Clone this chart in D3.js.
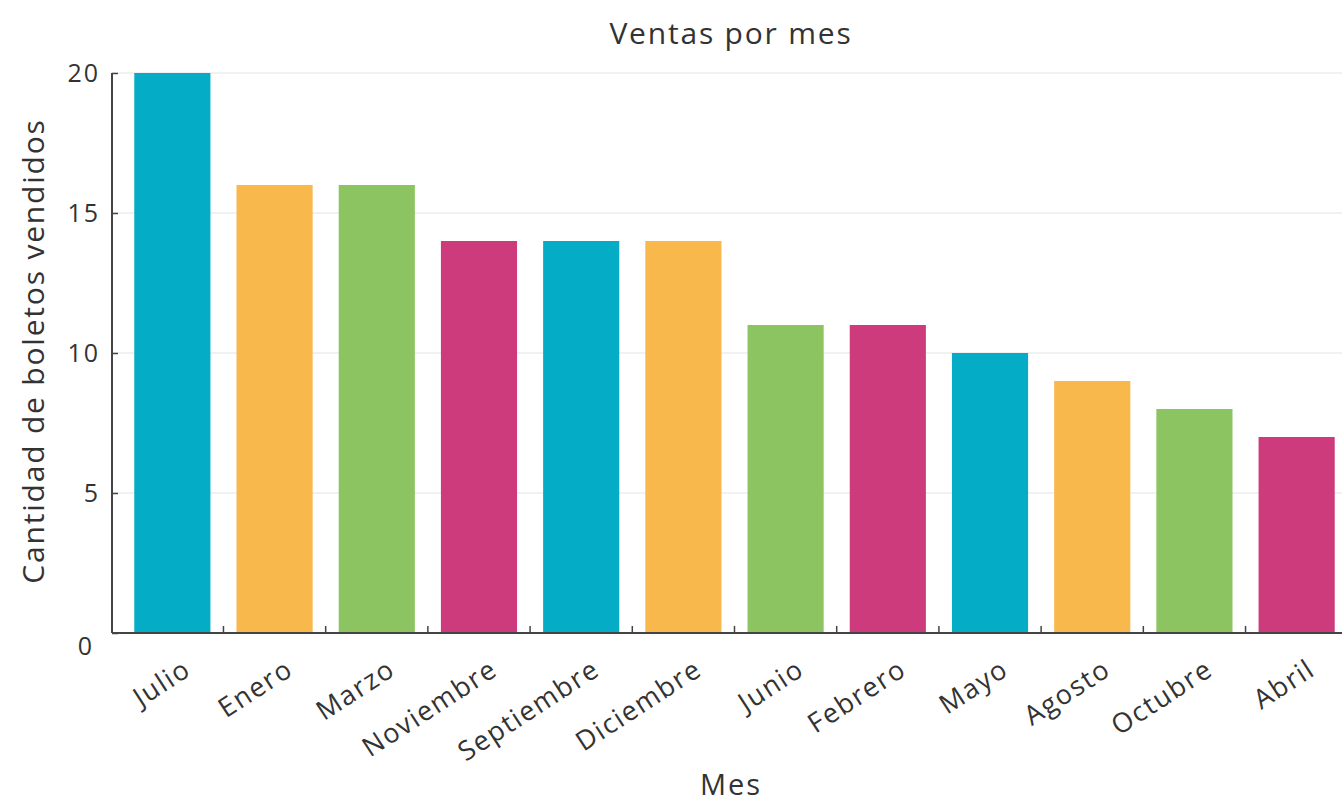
<!DOCTYPE html>
<html>
<head>
<meta charset="utf-8">
<script src="https://cdn.jsdelivr.net/npm/d3@7"></script>
<style>
  body { margin: 0; background: #fff; }
  text { font-family: "Open Sans", "Noto Sans", sans-serif; fill: #333; font-weight: 400; }
</style>
</head>
<body>
<svg id="chart" width="1342" height="804"></svg>
<script>
// Data
const months = ["Julio", "Enero", "Marzo", "Noviembre", "Septiembre", "Diciembre",
  "Junio", "Febrero", "Mayo", "Agosto", "Octubre", "Abril"];
const sales = [20, 16, 16, 14, 14, 14, 11, 11, 10, 9, 8, 7];
const yTicks = [0, 5, 10, 15, 20];
const palette = ["#04adc5", "#f8b84c", "#8cc462", "#cd3b7d"];

const svg = d3.select("#chart");

// plot area
const plotLeft = 112, plotRight = 1348, plotTop = 73, plotBottom = 633;

const x = d3.scaleBand()
  .domain(months)
  .range([121, plotRight])
  .paddingInner(0.255)
  .paddingOuter(0.13);

const y = d3.scaleLinear().domain([0, 20]).range([plotBottom, plotTop]);

// grid lines
svg.append("g")
  .selectAll("line")
  .data(yTicks.filter(d => d > 0))
  .enter()
  .append("line")
  .attr("x1", plotLeft)
  .attr("x2", 1342)
  .attr("y1", d => y(d))
  .attr("y2", d => y(d))
  .attr("stroke", "#ececec")
  .attr("stroke-width", 1.5);

// bars
svg.append("g")
  .selectAll("rect")
  .data(months)
  .enter()
  .append("rect")
  .attr("x", d => x(d))
  .attr("y", (d, i) => y(sales[i]))
  .attr("width", x.bandwidth())
  .attr("height", (d, i) => plotBottom - y(sales[i]))
  .attr("fill", (d, i) => palette[i % palette.length]);

// x axis: ticks at band boundaries
const gap = x.step() - x.bandwidth();
const boundaries = months.slice(1).map(m => x(m) - gap / 2);
svg.append("line")
  .attr("x1", plotLeft).attr("x2", 1342)
  .attr("y1", plotBottom).attr("y2", plotBottom)
  .attr("stroke", "#444").attr("stroke-width", 2);
svg.append("g")
  .selectAll("line")
  .data(boundaries)
  .enter()
  .append("line")
  .attr("x1", d => d).attr("x2", d => d)
  .attr("y1", plotBottom).attr("y2", plotBottom - 7)
  .attr("stroke", "#444").attr("stroke-width", 1.5);

// x labels rotated
svg.append("g")
  .selectAll("text")
  .data(months)
  .enter()
  .append("text")
  .attr("transform", d => `translate(${x(d) + x.bandwidth() / 2 + 10}, ${plotBottom + 25}) rotate(-33)`)
  .attr("text-anchor", "end")
  .attr("dy", "0.7em")
  .style("font-size", "27px")
  .style("letter-spacing", "1.6px")
  .text(d => d);

// y axis
const yAxis = svg.append("g")
  .attr("transform", `translate(${plotLeft}, 0)`)
  .call(d3.axisRight(y).tickValues(yTicks).tickSize(6).tickFormat(d3.format("d")));
yAxis.select(".domain").attr("stroke", "#444").attr("stroke-width", 2).attr("d", `M0,${plotTop}V${plotBottom}`);
yAxis.selectAll(".tick line").attr("stroke", "#444").attr("stroke-width", 1.5);
yAxis.selectAll(".tick text")
  .attr("x", -12)
  .attr("text-anchor", "end")
  .style("font-size", "25px")
  .style("letter-spacing", "2px")
  .style("font-family", "'Open Sans', 'Noto Sans', sans-serif")
  .attr("fill", "#333");
// the zero label sits a bit lower and to the left
yAxis.selectAll(".tick text").filter(d => d === 0)
  .attr("x", -18)
  .attr("dy", "0.85em");

// title
svg.append("text")
  .attr("x", 731)
  .attr("y", 44)
  .attr("text-anchor", "middle")
  .style("font-size", "30px")
  .style("letter-spacing", "1.8px")
  .text("Ventas por mes");

// x label
svg.append("text")
  .attr("x", 731)
  .attr("y", 795)
  .attr("text-anchor", "middle")
  .style("font-size", "29px")
  .style("letter-spacing", "2px")
  .text("Mes");

// y label
svg.append("text")
  .attr("transform", `translate(44, 351) rotate(-90)`)
  .attr("text-anchor", "middle")
  .style("font-size", "30px")
  .style("letter-spacing", "1.8px")
  .text("Cantidad de boletos vendidos");
</script>
</body>
</html>
